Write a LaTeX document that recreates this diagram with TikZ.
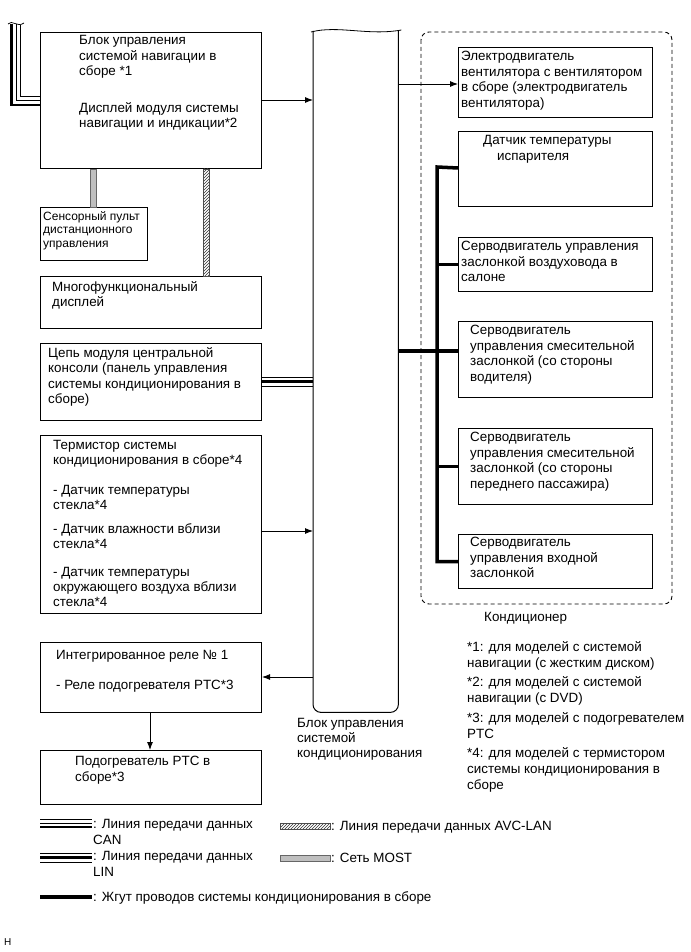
\documentclass[tikz,border=0pt]{standalone}
\usepackage{fontspec}
\setmainfont{Liberation Sans}
\usetikzlibrary{arrows.meta,patterns,calc}
\newcommand\fsA{\fontsize{13.4}{15.6}\selectfont}
\newcommand\fsB{\fontsize{12}{13.6}\selectfont}
\newcommand\fsC{\fontsize{10}{12}\selectfont}
\newcommand\fsT{\fontsize{13.4}{15}\selectfont}
\newcommand\fsN{\fontsize{13.4}{16}\selectfont}
\begin{document}
\begin{tikzpicture}[x=1pt,y=-1pt,
  box/.style={draw,line width=1pt,inner sep=0,anchor=north west},
  txt/.style={anchor=north west,inner sep=0,align=left,font=\fsA,execute at begin node=\strut},
  stxt/.style={anchor=north west,inner sep=0,align=left,font=\fsB,execute at begin node=\strut},
  arr/.style={line width=0.9pt,-{Latex[length=8pt,width=6pt]}},
  harness/.style={line width=3.5pt,line join=miter},
  thinl/.style={line width=1pt},
  thickl/.style={line width=2.6pt},
  mostl/.style={draw=black!60,fill=black!25,line width=0.7pt},
  avcl/.style={draw=black!70,pattern=north east lines,pattern color=black!80,line width=0.6pt}]
\useasboundingbox (0,0) rectangle (690,952);
\fill[white] (0,0) rectangle (690,952);

% ---------- left boxes ----------
\node[box,minimum width=221pt,minimum height=136pt] (nav) at (40,32) {};
\node[txt] (navt) at (79,35) {Блок управления\\системой навигации в\\сборе *1\\[21pt]Дисплей модуля системы\\навигации и индикации*2};

\node[box,minimum width=107pt,minimum height=53pt] (touch) at (40,207) {};
\node[stxt] (toucht) at (43,211) {Сенсорный пульт\\дистанционного\\управления};

\node[box,minimum width=221pt,minimum height=52pt] (multi) at (40,276) {};
\node[txt] (multit) at (52,281) {Многофункциональный\\дисплей};

\node[box,minimum width=221pt,minimum height=77pt] (cons) at (40,343) {};
\node[txt] (const) at (48,347) {Цепь модуля центральной\\консоли (панель управления\\системы кондиционирования в\\сборе)};

\node[box,minimum width=221pt,minimum height=178pt] (therm) at (40,435) {};
\node[txt,font=\fsT] (thermt) at (53,440.5) {Термистор системы\\кондиционирования в сборе*4\\[15pt]- Датчик температуры\\стекла*4\\[9pt]- Датчик влажности вблизи\\стекла*4\\[13pt]- Датчик температуры\\окружающего воздуха вблизи\\стекла*4};

\node[box,minimum width=221pt,minimum height=70pt] (relay) at (40,642) {};
\node[txt] (relayt) at (56,650) {Интегрированное реле № 1\\[14.4pt]- Реле подогревателя PTC*3};

\node[box,minimum width=221pt,minimum height=54pt] (ptc) at (40,750) {};
\node[txt] (ptct) at (75,756) {Подогреватель PTC в\\сборе*3};

% ---------- central A/C ECU ----------
\node[inner sep=0,minimum width=85pt,minimum height=681pt,anchor=north west] (cbox) at (313,31) {};
\draw[line width=1pt] (cbox.north west) -- ($(cbox.south west)+(0,-8)$)
  arc[start angle=180,end angle=270,radius=8pt] -- ($(cbox.south east)+(-8,0)$)
  arc[start angle=270,end angle=360,radius=8pt] -- (cbox.north east);
\draw[line width=0.8pt] ($(cbox.north west)+(-2,1)$) .. controls ($(cbox.north west)+(25,-6)$) and ($(cbox.north east)+(-30,5)$) .. ($(cbox.north east)+(3,-1)$);
\node[txt,font=\fontsize{13.4}{15}\selectfont] (cboxt) at (297,718) {Блок управления\\системой\\кондиционирования};

% ---------- right side ----------
\draw[line width=0.9pt,dash pattern=on 4pt off 3pt,rounded corners=8pt] (421,32) rectangle (672,604);
\node[txt] (condt) at (484,610) {Кондиционер};

\node[box,minimum width=194pt,minimum height=70pt] (fan) at (458,47) {};
\node[txt] (fant) at (461,51) {Электродвигатель\\вентилятора с вентилятором\\в сборе (электродвигатель\\вентилятора)};

\node[box,minimum width=194pt,minimum height=75pt] (evap) at (458,131) {};
\node[txt] (evapt) at (483,135) {Датчик температуры\\\hspace*{14pt}испарителя};

\node[box,minimum width=194pt,minimum height=54pt] (duct) at (458,237) {};
\node[txt] (ductt) at (461,241) {Серводвигатель управления\\заслонкой воздуховода в\\салоне};

\node[box,minimum width=194pt,minimum height=76pt] (drv) at (458,321) {};
\node[txt] (drvt) at (470,325) {Серводвигатель\\управления смесительной\\заслонкой (со стороны\\водителя)};

\node[box,minimum width=194pt,minimum height=76pt] (pas) at (458,428) {};
\node[txt] (past) at (470,432) {Серводвигатель\\управления смесительной\\заслонкой (со стороны\\переднего пассажира)};

\node[box,minimum width=194pt,minimum height=54pt] (intk) at (458,534) {};
\node[txt] (intkt) at (470,537) {Серводвигатель\\управления входной\\заслонкой};

\node[txt,font=\fsN] (notes) at (467,641) {*1: для моделей с системой\\навигации (с жестким диском)\\[3.5pt]*2: для моделей с системой\\навигации (с DVD)\\[3.5pt]*3: для моделей с подогревателем\\PTC\\[3.5pt]*4: для моделей с термистором\\системы кондиционирования в\\сборе};

% ---------- connectors ----------
\coordinate (yNav) at (0,100);
\coordinate (yFan) at (0,84);
\coordinate (yTh) at (0,531);
\coordinate (yRel) at (0,677);
\coordinate (yCons) at (0,381.5);
\coordinate (yBus) at (0,351);
\coordinate (busx) at (437,0);

\draw[arr] (nav.east |- yNav) -- (cbox.west |- yNav);
\draw[arr] (cbox.east |- yFan) -- (fan.west |- yFan);
\draw[arr] (therm.east |- yTh) -- (cbox.west |- yTh);
\draw[arr] (cbox.west |- yRel) -- (relay.east |- yRel);
\draw[arr] (relay.south -| 150,0) -- (ptc.north -| 150,0);

% LIN: console -> ECU
\draw[thinl] ($(cons.east |- yCons)+(0,-4)$) -- ($(cbox.west |- yCons)+(0,-4)$);
\draw[thickl] (cons.east |- yCons) -- (cbox.west |- yCons);
\draw[thinl] ($(cons.east |- yCons)+(0,4.5)$) -- ($(cbox.west |- yCons)+(0,4.5)$);

% MOST and AVC-LAN
\draw[mostl] ($(nav.south west)+(50.5,0)$) rectangle ($(touch.north west)+(56,0)$);
\draw[avcl] ($(nav.south west)+(163,0)$) rectangle ($(multi.north west)+(169.5,0)$);

% CAN at top left
\draw[thickl,line join=miter] (11.5,24) -- (11.5,105) -- (nav.west |- 0,105);
\draw[thinl] (16,24) -- (16,101) -- (nav.west |- 0,101);
\draw[thinl] (20,25) -- (20,97) -- (nav.west |- 0,97);
\draw[line width=0.7pt] (8,24) .. controls (12,19) and (17,28) .. (24,23);

% A/C harness bus
\draw[harness] (cbox.east |- yBus) -- (drv.west |- yBus);
\draw[harness] ($(evap.west)+(0,-1)$) -- (busx |- 0,167) -- (busx |- intk.west) -- (intk.west);
\draw[harness] (busx |- duct.west) -- (duct.west);
\draw[harness] (busx |- pas.west) -- (pas.west);

% ---------- legend ----------
\draw[thinl] (40,819.5) -- (92,819.5);
\draw[thinl] (40,823) -- (92,823);
\draw[thickl] (40,827) -- (92,827);
\node[txt] (lcan) at (93,819) {: Линия передачи данных\\CAN};

\draw[thinl] (40,853) -- (92,853);
\draw[thickl] (40,857.5) -- (92,857.5);
\draw[thinl] (40,862) -- (92,862);
\node[txt] (llin) at (93,851) {: Линия передачи данных\\LIN};

\draw[line width=4pt] (40,897) -- (92,897);
\node[txt] (lhar) at (93,890) {: Жгут проводов системы кондиционирования в сборе};

\draw[avcl] (280,823) rectangle (330,829);
\node[txt] (lavc) at (331,819) {: Линия передачи данных AVC-LAN};

\draw[mostl] (280,855) rectangle (330,861);
\node[txt] (lmost) at (331,851) {: Сеть MOST};

\node[anchor=north west,inner sep=0,font=\fsC] (hh) at (4,938) {H};
\end{tikzpicture}
\end{document}
